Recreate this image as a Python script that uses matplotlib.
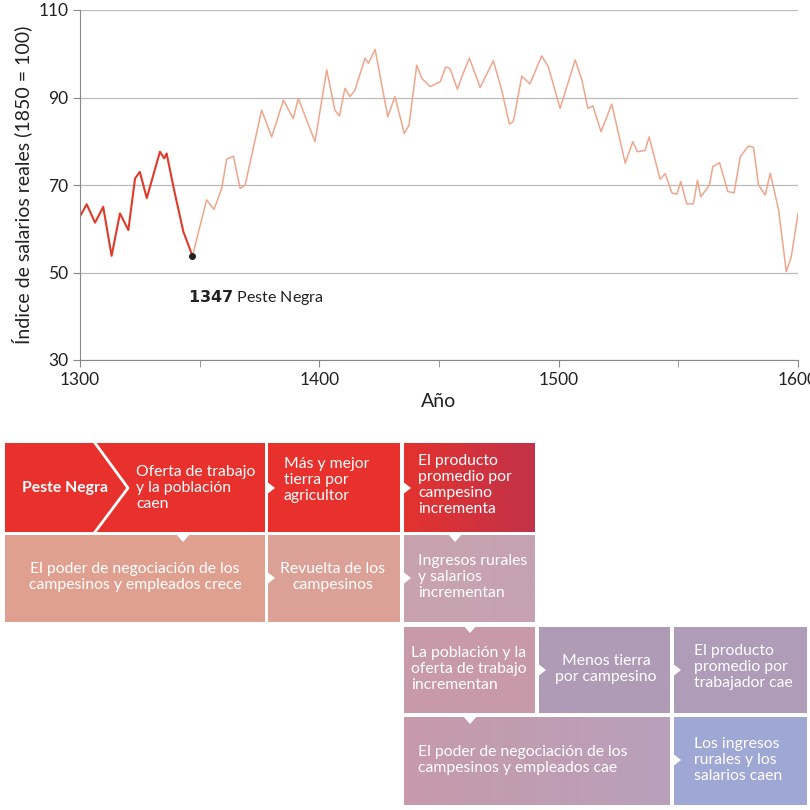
import matplotlib
matplotlib.use("Agg")
import matplotlib.pyplot as plt
from matplotlib.patches import Rectangle, Polygon
import numpy as np

plt.rcParams['font.family'] = 'Lato'

years_red = [1300,1302.8,1306.3,1309.7,1313.2,1316.7,1320.2,1323,1325,1327.9,1333.4,1335.2,1336.2,1339.3,1343.2,1347]
wages_red = [62.8,65.6,61.4,65.0,53.8,63.5,59.7,71.5,73.0,67.0,77.6,76.1,77.2,68.9,59.3,53.8]
years_lt = [1347,1352.9,1356,1359.2,1361.3,1364.1,1366.9,1369,1375.9,1380.1,1385,1389.1,1391.2,1398.2,1403.1,1406.5,1408.4,
            1410.7,1412.8,1414.9,1419.1,1420.5,1423.3,1428.6,1431.6,1435.5,1437.5,1440.7,1442.8,1446.3,1450.5,1452.8,1454.6,
            1457.7,1460.2,1462.7,1467.2,1472.7,1476.2,1479.4,1481.1,1484.6,1488,1492.9,1495.7,1500.6,1506.9,1509.7,1512.2,
            1514.3,1517.7,1522.2,1527.8,1531,1532.9,1536.1,1537.8,1542.4,1544.5,1547.3,1549.4,1551,1553.5,1556.3,1558,1559.4,
            1563,1564.4,1567.2,1570.7,1573.3,1575.9,1579.3,1581.4,1583.5,1586.3,1588.4,1591.9,1595.1,1597.2,1600]
wages_lt = [53.8,66.6,64.4,69.2,75.9,76.6,69.2,70,87.1,81.0,89.4,85.2,89.8,79.9,96.3,87.1,85.8,
            92.1,90.2,91.7,99.0,97.8,101.0,85.6,90.2,81.8,83.7,97.4,94.4,92.5,93.6,97.0,96.6,
            91.9,95.7,99.0,92.3,98.4,91.7,83.9,84.6,94.9,93.1,99.5,97.0,87.5,98.6,94.0,87.5,
            88.1,82.2,88.5,75.0,79.9,77.6,77.9,81.0,71.3,72.6,68.2,67.9,70.8,65.7,65.7,71.1,67.3,
            70,74.2,75.1,68.5,68.2,76.5,78.9,78.6,70,67.7,72.7,64.3,50.2,53.6,63.5]

W = 810
fig = plt.figure(figsize=(8.1, 8.1), dpi=100)

ov = fig.add_axes([0, 0, 1, 1])
ov.set_xlim(0, W); ov.set_ylim(W, 0); ov.axis('off')

ax = fig.add_axes([80/W, 1-360/W, 718/W, 350/W])
ax.plot(years_lt, wages_lt, color='#eea68c', lw=1.1)
ax.plot(years_red, wages_red, color='#e03a2a', lw=1.5)
ax.plot([1347], [53.8], 'o', color='#222222', ms=4)
ax.text(1345, 46.5, r'$\bf{1347}$ Peste Negra', fontsize=11.5, ha='left', va='top', color='#222')
ax.set_xlim(1300, 1600); ax.set_ylim(30, 110)
ax.set_yticks([30, 50, 70, 90, 110])
ax.set_xticks([1300, 1400, 1500, 1600])
ax.set_xticks([1350, 1450, 1550], minor=True)
ax.grid(axis='y', color='#bbbbbb', lw=0.9)
ax.set_axisbelow(True)
for s in ['top', 'right']:
    ax.spines[s].set_visible(False)
for s in ['left', 'bottom']:
    ax.spines[s].set_color('#888888')
ax.tick_params(which='both', colors='#888888', labelcolor='#222', labelsize=12.5, length=5)
ax.set_xlabel('Año', fontsize=14, color='#222')
ax.set_ylabel('Índice de salarios reales (1850 = 100)', fontsize=14, color='#222')

def box(x0, y0, x1, y1, c1, c2=None):
    if c2 is None:
        ov.add_patch(Rectangle((x0, y0), x1-x0, y1-y0, color=c1, lw=0))
    else:
        a = np.array(matplotlib.colors.to_rgb(c1)); b = np.array(matplotlib.colors.to_rgb(c2))
        grad = np.linspace(0, 1, 64)[None, :, None]
        img = a*(1-grad) + b*grad
        ov.imshow(img, extent=(x0, x1, y1, y0), aspect='auto', interpolation='bilinear')

def rarrow(x, y):
    ov.add_patch(Polygon([(x, y-7), (x+9, y), (x, y+7)], color='white', lw=0))

def darrow(x, y):
    ov.add_patch(Polygon([(x-8, y), (x+8, y), (x, y+9)], color='white', lw=0))

red = '#e8302c'
box(5, 443, 265, 532, red)
box(268, 443, 400, 532, red)
box(404, 443, 535, 532, '#e3322f', '#c23349')
box(5, 535, 265, 622, '#dfa090')
box(268, 535, 400, 622, '#dba197')
box(404, 535, 535, 622, '#c9a2ae', '#c6a3b2')
box(404, 627, 535, 713, '#c899a8')
box(539, 627, 670, 713, '#b09bb6')
box(674, 627, 807, 713, '#ae9cb9')
box(404, 717, 670, 805, '#c79aab', '#b9a0bb')
box(674, 717, 807, 805, '#9fa7d4')
ov.set_xlim(0, W); ov.set_ylim(W, 0)

ov.plot([95, 128, 95], [443, 488, 532], color='white', lw=2)
rarrow(266, 488); rarrow(402, 488)
darrow(183, 533); darrow(455, 533)
rarrow(266, 578); rarrow(402, 578)
darrow(470, 624); darrow(470, 715)
rarrow(537, 670); rarrow(672, 670); rarrow(672, 760)

fs = 11.3
def t(x, y, s, ha='left', bold=False):
    ov.text(x, y, s, color='white', fontsize=fs, ha=ha, va='center', linespacing=1.2,
            fontweight='bold' if bold else 'normal', multialignment=ha)

t(22, 488, 'Peste Negra', bold=True)
t(136, 488, 'Oferta de trabajo\ny la población\ncaen')
t(284, 480, 'Más y mejor\ntierra por\nagricultor')
t(418, 485, 'El producto\npromedio por\ncampesino\nincrementa')
t(135, 577, 'El poder de negociación de los\ncampesinos y empleados crece', ha='center')
t(333, 577, 'Revuelta de los\ncampesinos', ha='center')
t(418, 577, 'Ingresos rurales\ny salarios\nincrementan')
t(411, 669, 'La población y la\noferta de trabajo\nincrementan')
t(606, 669, 'Menos tierra\npor campesino', ha='center')
t(694, 667, 'El producto\npromedio por\ntrabajador cae')
t(418, 760, 'El poder de negociación de los\ncampesinos y empleados cae')
t(694, 760, 'Los ingresos\nrurales y los\nsalarios caen')

fig.savefig('out.png', dpi=100)
